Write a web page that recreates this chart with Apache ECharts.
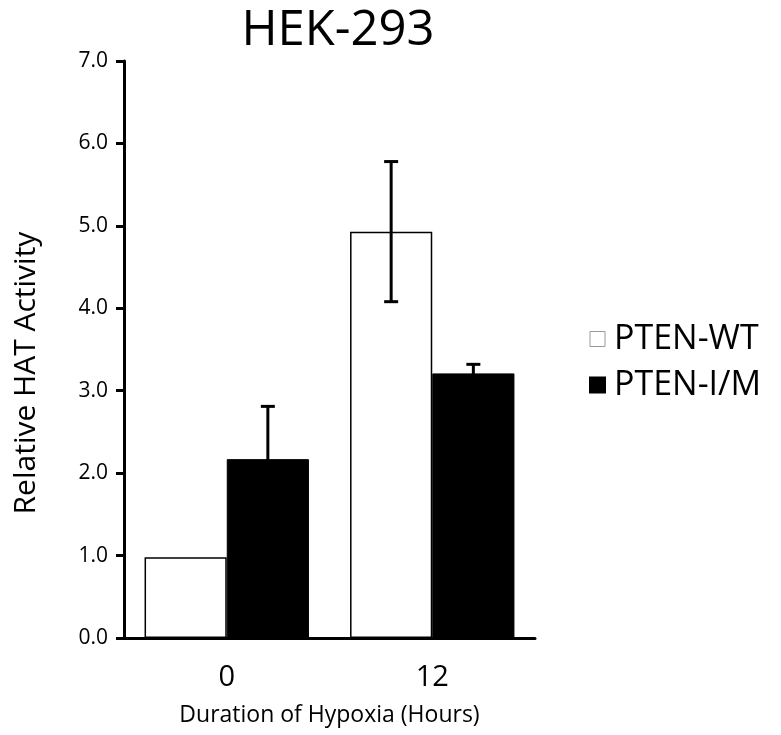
<!DOCTYPE html>
<html lang="en">
<head>
  <meta charset="UTF-8">
  <title>HEK-293</title>
  <script src="https://cdn.jsdelivr.net/npm/echarts@6/dist/echarts.min.js"></script>
</head>
<body style="margin:0">
  <div id="app" style="width: 781px; height: 735px;"></div>
  <script>
    var categories = ['0', '12']
    var wtValues = [0.98, 4.93]
    var imValues = [2.17, 3.21]
    var wtErr = [0, 0.85]
    var imErr = [0.64, 0.11]
    var yTicks = [0, 1, 2, 3, 4, 5, 6, 7]

    var font = 'Open Sans'
    var chart = echarts.init(document.querySelector('#app'))

    // error bars drawn over the bars, shifted to each bar's centre
    function errorSeries(name, values, errs, side) {
      return {
        name: name + '-err',
        type: 'custom',
        z: 5,
        data: categories.map(function (c, i) { return [i, values[i], errs[i]] }),
        renderItem: function (params, api) {
          var err = api.value(2)
          if (!err) return
          var band = api.size([1, 0])[0]
          var shift = side * band * 0.2
          var hi = api.coord([api.value(0), api.value(1) + err])
          var lo = api.coord([api.value(0), api.value(1) - err])
          var x = hi[0] + shift
          var style = { stroke: '#000', lineWidth: 3 }
          return {
            type: 'group',
            children: [
              { type: 'line', shape: { x1: x, y1: hi[1], x2: x, y2: lo[1] }, style: style },
              { type: 'line', shape: { x1: x - 7, y1: hi[1], x2: x + 7, y2: hi[1] }, style: style },
              { type: 'line', shape: { x1: x - 7, y1: lo[1], x2: x + 7, y2: lo[1] }, style: style }
            ]
          }
        }
      }
    }

    var option = {
      animation: false,
      title: {
        text: 'HEK-293',
        left: 333,
        textAlign: 'center',
        top: 2,
        textStyle: { fontFamily: font, fontSize: 49, fontWeight: 'normal', color: '#000' }
      },
      legend: {
        orient: 'vertical',
        left: 584,
        top: 317,
        itemWidth: 15,
        itemHeight: 15,
        itemGap: 12,
        icon: 'rect',
        textStyle: { fontFamily: font, fontSize: 34, color: '#000', padding: [0, 0, 0, 4] },
        data: [
          { name: 'PTEN-WT', itemStyle: { color: '#fff', borderColor: '#999', borderWidth: 1 } },
          { name: 'PTEN-I/M', itemStyle: { color: '#000' } }
        ]
      },
      graphic: [{
        type: 'text',
        x: 26,
        y: 373,
        rotation: Math.PI / 2,
        style: {
          text: 'Relative HAT Activity',
          fontFamily: font,
          fontSize: 30,
          fill: '#000',
          align: 'center',
          verticalAlign: 'middle'
        }
      }],
      grid: { left: 124, right: 246, top: 61, bottom: 97 },
      xAxis: {
        type: 'category',
        data: categories,
        name: 'Duration of Hypoxia (Hours)',
        nameLocation: 'middle',
        nameGap: 66,
        nameTextStyle: { fontFamily: font, fontSize: 23, color: '#000' },
        axisLine: { lineStyle: { color: '#000', width: 3 } },
        axisTick: { show: false },
        axisLabel: { fontFamily: font, fontSize: 29, color: '#000', margin: 25 }
      },
      yAxis: {
        type: 'value',
        min: 0,
        max: 7,
        interval: 1,
        axisLine: { show: true, lineStyle: { color: '#000', width: 3 } },
        axisTick: { show: true, length: 8, lineStyle: { color: '#000', width: 3 } },
        splitLine: { show: false },
        axisLabel: {
          fontFamily: font, fontSize: 21, color: '#000', margin: 16,
          formatter: function (v) { return yTicks.indexOf(v) >= 0 ? v.toFixed(1) : '' }
        }
      },
      series: [
        {
          name: 'PTEN-WT',
          type: 'bar',
          barGap: '0%',
          barCategoryGap: '20%',
          data: wtValues,
          itemStyle: { color: '#fff', borderColor: '#000', borderWidth: 1.5 }
        },
        {
          name: 'PTEN-I/M',
          type: 'bar',
          barGap: '0%',
          barCategoryGap: '20%',
          data: imValues,
          itemStyle: { color: '#000', borderColor: '#000', borderWidth: 1 }
        },
        errorSeries('PTEN-WT', wtValues, wtErr, -1),
        errorSeries('PTEN-I/M', imValues, imErr, 1)
      ]
    }
    chart.setOption(option)
  </script>
</body>
</html>
